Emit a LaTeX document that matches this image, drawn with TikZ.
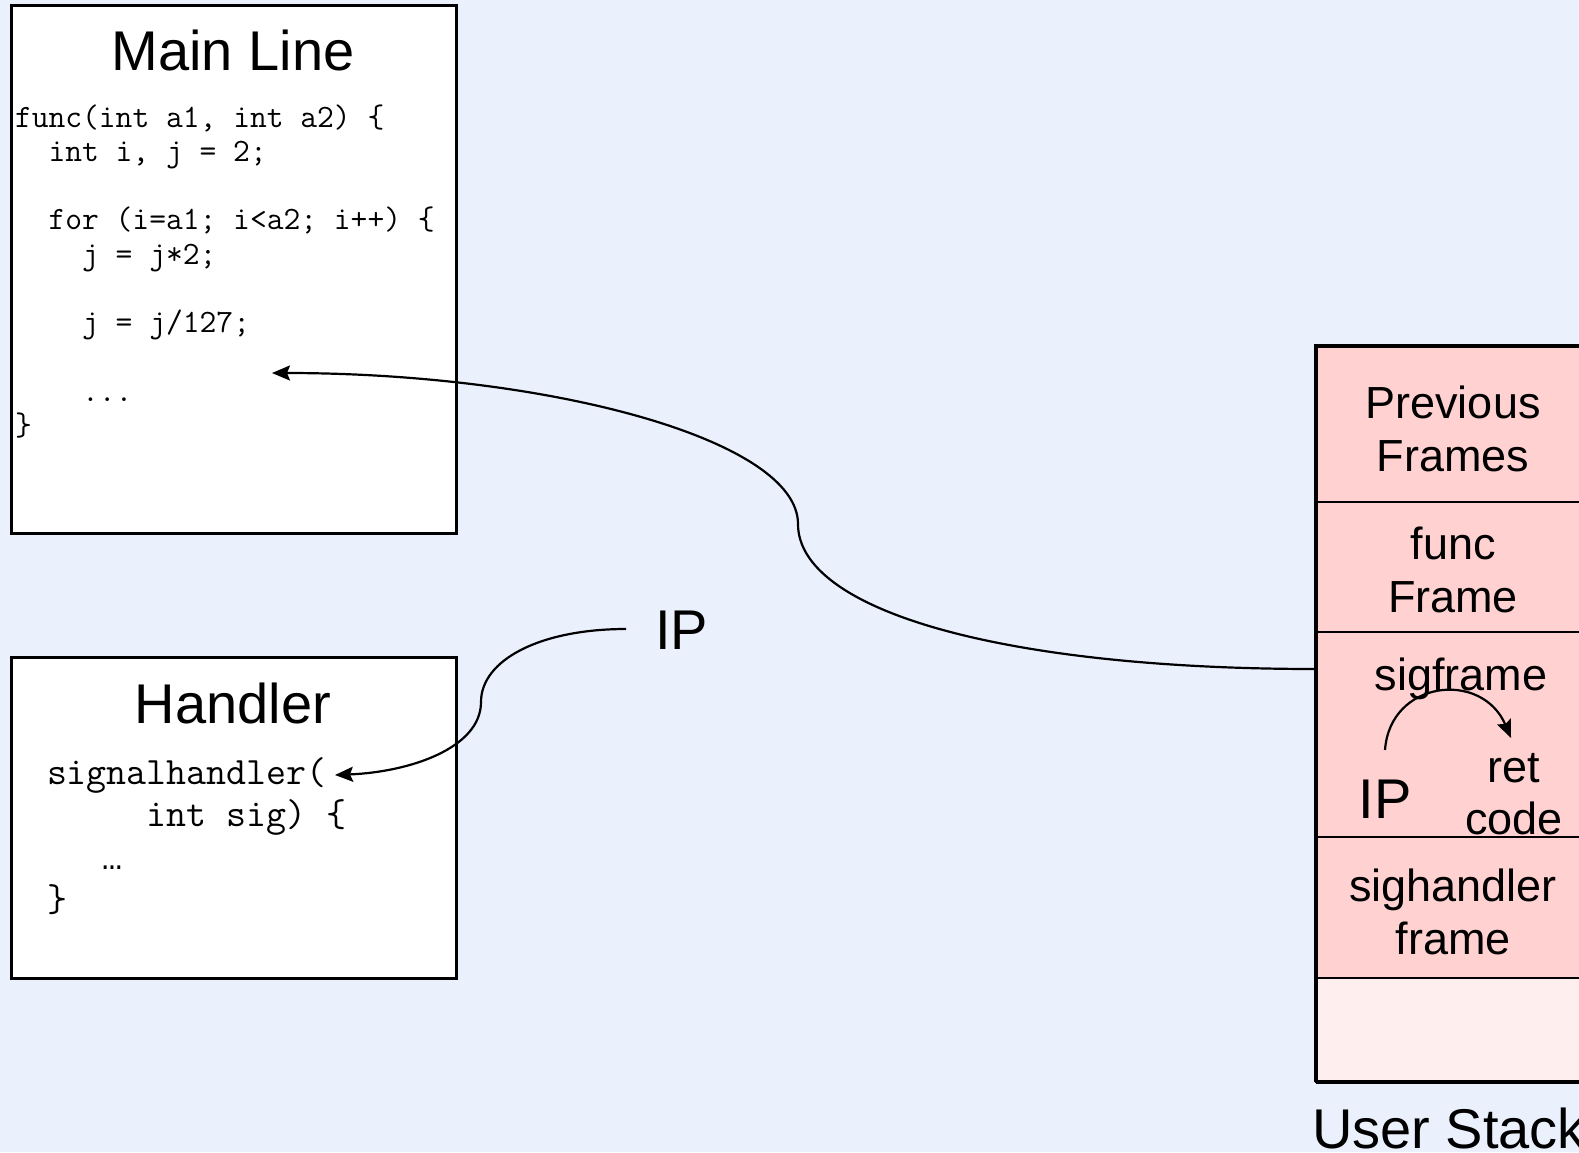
\documentclass[tikz,border=0pt]{standalone}
\usepackage{fontspec}
\setmainfont{Liberation Sans}
\newfontfamily\dotsfont{Liberation Mono}
\usetikzlibrary{arrows.meta}
\definecolor{slidebg}{RGB}{234,241,253}
\definecolor{stackpink}{RGB}{255,209,209}
\definecolor{stackfree}{RGB}{255,238,238}

\begin{document}
\begin{tikzpicture}[x=1pt,y=-1pt,
  every node/.style={inner sep=0pt, outer sep=0pt},
  title/.style={font=\fontsize{56}{60}\selectfont, anchor=base},
  cell/.style={font=\fontsize{45}{53}\selectfont, anchor=base},
  code/.style={font=\ttfamily\fontsize{32.6}{34}\selectfont, anchor=base west},
  hcode/.style={font=\ttfamily\fontsize{38.8}{42}\selectfont, anchor=base west},
  codebox/.style={draw, line width=3pt, fill=white},
  frame cell/.style={draw, line width=2pt, fill=stackpink, minimum width=290pt},
  link/.style={line width=2.2pt, -{Stealth[length=18pt,width=15pt,inset=3pt]}},
]
% slide background and page size
\useasboundingbox (0,0) rectangle (1579,1152);
\fill[slidebg] (0,0) rectangle (1579,1152);

% ---- Main line code box ----
\node[codebox, minimum width=445pt, minimum height=528pt] (mainbox) at (233.5,269) {};
\node[title] (maintitle) at (233,70.5) {Main Line};
\node[code] (c1) at (15,127) {func(int a1, int a2) \{};
\node[code] (c2) at (15,161.3) {\phantom{xx}int i, j = 2;};
\node[code] (c3) at (15,229.9) {\phantom{xx}for (i=a1; i<a2; i++) \{};
\node[code] (c4) at (15,264.2) {\phantom{xxxx}j = j*2;};
\node[code] (c5) at (15,332.8) {\phantom{xxxx}j = j/127;};
\node[code] (c6) at (15,401.4) {\phantom{xxxx}...};
\node[code] (c7) at (15,435.7) {\}};

% ---- Signal handler box ----
\node[codebox, minimum width=445pt, minimum height=321pt] (handlerbox) at (233.5,817.5) {};
\node[title] (handlertitle) at (233,723) {Handler};
\node[hcode] (h1) at (47,784) {signalhandler(};
\node[hcode] (h2) at (47,826) {\phantom{xxxxx}int sig) \{};
\node[font=\dotsfont\fontsize{34}{42}\selectfont, anchor=base] (h3) at (112,869) {…};
\node[hcode] (h4) at (47,911) {\}};

% ---- Instruction pointer ----
\node[title, anchor=base west] (ip) at (655,649) {IP};
\coordinate (ipfrom) at (626,629);
\coordinate (hentry) at (335,775);
\draw[link] (ipfrom) .. controls (540,629) and (481,660) .. (481,702)
                     .. controls (481,748) and (410,772) .. (hentry);

% ---- User stack ----
\node[frame cell, minimum height=156pt] (prevcell) at (1461,424) {};
\node[frame cell, minimum height=130pt] (funccell) at (1461,567) {};
\node[frame cell, minimum height=205pt] (sigcell) at (1461,734.5) {};
\node[frame cell, minimum height=141pt] (shcell) at (1461,907.5) {};
\node[frame cell, minimum height=104pt, fill=stackfree] (freecell) at (1461,1030) {};
\draw[line width=4.5pt] (1316,1082) -- (1316,346) -- (1606,346);
\draw[line width=4.5pt] (1316,1082) -- (1606,1082);

\node[cell] (prevA) at (1453,418) {Previous};
\node[cell] (prevB) at (1453,471) {Frames};
\node[cell] (funcA) at (1453,559) {func};
\node[cell] (funcB) at (1453,612) {Frame};
\node[cell] (sigA) at (1461,690) {sigframe};
\node[title] (sigip) at (1385,818) {IP};
\node[cell] (retA) at (1514,782) {ret};
\node[cell] (retB) at (1514,834) {code};
\node[cell] (shA) at (1453,901) {sighandler};
\node[cell] (shB) at (1453,954) {frame};
\node[title, anchor=base west] (stacklabel) at (1312,1148) {User Stack};

% saved IP inside the sigframe points to the return code
\coordinate (ipsave) at (1385,750);
\coordinate (rettop) at (1511,738);
\draw[link] (ipsave) .. controls (1390,680) and (1482,670) .. (rettop);

% saved IP leads back into the interrupted main line
\coordinate (sigleft) at (1316,669);
\coordinate (resume) at (272,373);
\draw[link] (sigleft) .. controls (1000,669) and (798,610) .. (798,524)
                      .. controls (798,440) and (550,373) .. (resume);
\end{tikzpicture}
\end{document}
